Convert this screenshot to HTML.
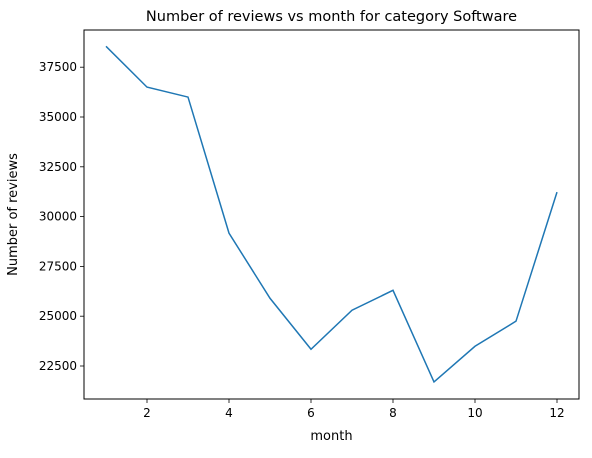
<!DOCTYPE html>
<html><head><meta charset="utf-8"><style>
body{margin:0;background:#fff;font-family:"Liberation Sans","DejaVu Sans",sans-serif;}
svg text{font-family:"DejaVu Sans","Liberation Sans",sans-serif;}
</style></head><body>
<svg id="chart" width="592" height="453" xmlns="http://www.w3.org/2000/svg"></svg>
<script>
const months=[1,2,3,4,5,6,7,8,9,10,11,12];
const reviews=[38550,36500,36000,29170,25900,23340,25300,26300,21700,23490,24750,31230];
const xTicks=[2,4,6,8,10,12];
const yTicks=[22500,25000,27500,30000,32500,35000,37500];
const L=84,R=579,T=30,B=399;
function xs(v){return 147+(v-2)*41;}
function ys(v){return 366-(v-22500)/2500*49.8;}
const svg=document.getElementById('chart');
const NS='http://www.w3.org/2000/svg';
function mk(t,a,txt){const e=document.createElementNS(NS,t);for(const k in a)e.setAttribute(k,a[k]);if(txt!==undefined)e.textContent=txt;svg.appendChild(e);return e;}
let e;
e=mk('text',{x:(L+R)/2,y:21,'text-anchor':'middle','font-size':'14.5'},'Number of reviews vs month for category Software');


xTicks.forEach(v=>{const x=xs(v);
e=mk('line',{x1:x,x2:x,y1:B,y2:B+4,stroke:'#000','stroke-width':0.8});


e=mk('text',{x:x,y:B+18,'text-anchor':'middle','font-size':'12'},String(v));

});
yTicks.forEach(v=>{const y=ys(v);
e=mk('line',{x1:L-4,x2:L,y1:y,y2:y,stroke:'#000','stroke-width':0.8});


e=mk('text',{x:L-7,y:y+4,'text-anchor':'end','font-size':'12'},String(v));

});
e=mk('text',{x:(L+R)/2,y:440,'text-anchor':'middle','font-size':'13'},'month');


e=mk('text',{x:17,y:(T+B)/2,'text-anchor':'middle','font-size':'13',transform:'rotate(-90 17 '+((T+B)/2)+')'},'Number of reviews');


e=mk('polyline',{points:months.map((m,i)=>xs(m)+','+ys(reviews[i])).join(' '),fill:'none',stroke:'#1f77b4','stroke-width':1.5});


e=mk('rect',{x:L,y:T,width:R-L,height:B-T,fill:'none',stroke:'#000','stroke-width':1});


</script>
</body></html>
